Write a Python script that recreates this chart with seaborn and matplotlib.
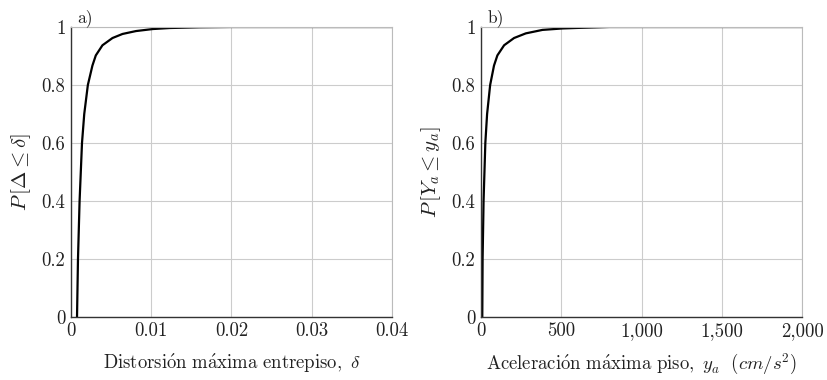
import matplotlib
matplotlib.use("Agg")
import matplotlib.pyplot as plt
import seaborn as sns
import pandas as pd
from matplotlib.ticker import FuncFormatter

# ---- data ----
drift = [0.00075, 0.00087, 0.00107, 0.00137, 0.00165, 0.0021, 0.00267, 0.00309,
         0.00392, 0.00517, 0.00642, 0.0081, 0.0102, 0.0123, 0.016, 0.02, 0.04]
drift_p = [0.0, 0.2, 0.4, 0.6, 0.7, 0.8, 0.867, 0.902,
           0.937, 0.962, 0.976, 0.986, 0.993, 0.9965, 0.999, 1.0, 1.0]

accel = [8, 10, 16, 27, 38, 57, 81, 102, 144, 206, 279, 383, 508, 612, 800, 2000]
accel_p = [0.0, 0.2, 0.4, 0.6, 0.7, 0.8, 0.867, 0.902, 0.937, 0.962, 0.978,
           0.990, 0.995, 0.997, 1.0, 1.0]

x_ticks_a = [0, 0.01, 0.02, 0.03, 0.04]
x_ticks_b = [0, 500, 1000, 1500, 2000]
y_ticks = [0, 0.2, 0.4, 0.6, 0.8, 1.0]

sns.set_theme(style="whitegrid")
plt.rcParams["font.family"] = ["cmr10", "DejaVu Serif"]
plt.rcParams["mathtext.fontset"] = "cm"
plt.rcParams["axes.formatter.use_mathtext"] = True

fig = plt.figure(figsize=(8.28, 3.8), dpi=100)
ax_a = fig.add_axes([71 / 828, 63 / 380, 321 / 828, 290 / 380])
ax_b = fig.add_axes([481 / 828, 63 / 380, 321 / 828, 290 / 380])

df_a = pd.DataFrame({"x": drift, "p": drift_p})
df_b = pd.DataFrame({"x": accel, "p": accel_p})

sns.lineplot(data=df_a, x="x", y="p", ax=ax_a, color="black", linewidth=1.6, sort=False)
sns.lineplot(data=df_b, x="x", y="p", ax=ax_b, color="black", linewidth=1.6, sort=False)


def fmt_plain(v, pos):
    if abs(v) < 1e-12:
        return "0"
    if abs(v - 1) < 1e-12:
        return "1"
    return f"{v:g}"


def fmt_thousands(v, pos):
    return f"{int(round(v)):,}"


for ax, xt, xl, yl, tag in [
    (ax_a, x_ticks_a, 0.04, r"$P\,[\Delta \leq \delta]$", "a)"),
    (ax_b, x_ticks_b, 2000, r"$P\,[Y_a \leq y_a]$", "b)"),
]:
    ax.set_xlim(0, xl)
    ax.set_ylim(0, 1)
    ax.set_xticks(xt)
    ax.set_yticks(y_ticks)
    ax.grid(True, color="#cccccc", linewidth=0.8)
    ax.set_facecolor("white")
    for s in ["top", "right"]:
        ax.spines[s].set_color("#bbbbbb")
        ax.spines[s].set_linewidth(0.8)
    for s in ["left", "bottom"]:
        ax.spines[s].set_color("#333333")
        ax.spines[s].set_linewidth(1.0)
    ax.tick_params(axis="both", direction="in", length=3, width=0.8,
                   color="#333333", labelsize=13.5, labelcolor="#222222", pad=4)
    ax.yaxis.set_major_formatter(FuncFormatter(fmt_plain))
    ax.set_ylabel(yl, fontsize=15, color="#222222", labelpad=6)
    ax.text(0.02, 1.0, tag, transform=ax.transAxes, ha="left", va="bottom",
            fontsize=12.5, color="#222222")

ax_a.xaxis.set_major_formatter(FuncFormatter(fmt_plain))
ax_b.xaxis.set_major_formatter(FuncFormatter(fmt_thousands))

ax_a.set_xlabel(r"$\mathrm{Distorsi\acute{o}n\ m\acute{a}xima\ entrepiso,}\ \delta$",
                fontsize=13.5, color="#222222", labelpad=8)
ax_b.set_xlabel(r"$\mathrm{Aceleraci\acute{o}n\ m\acute{a}xima\ piso,}\ y_a\ \ (cm/s^2)$",
                fontsize=13.5, color="#222222", labelpad=8)

fig.savefig("out.png", dpi=100, facecolor="white")
